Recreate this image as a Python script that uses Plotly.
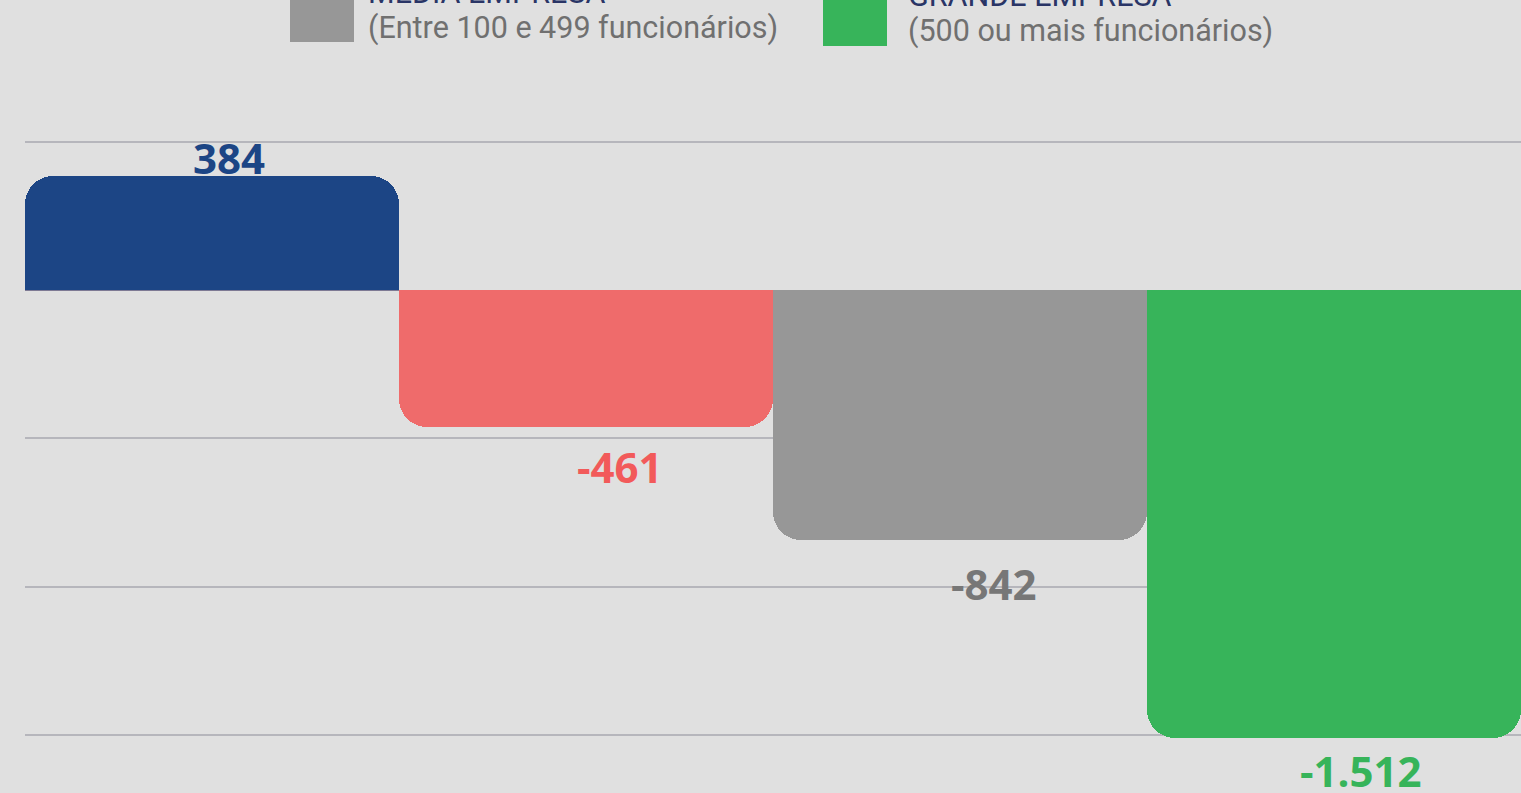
import plotly.graph_objects as go

# ---- data ----
categories = ["Micro empresa", "Pequena empresa", "Média empresa", "Grande empresa"]
values = [384, -461, -842, -1512]
value_labels = ["384", "-461", "-842", "-1.512"]
legend_titles = ["MÉDIA EMPRESA", "GRANDE EMPRESA"]
legend_subtitles = ["(Entre 100 e 499 funcionários)", "(500 ou mais funcionários)"]

# ---- styles ----
bar_colors = ["#1c4585", "#ef6b6b", "#979797", "#37b45a"]
label_colors = ["#1c4585", "#f25a5a", "#777777", "#37b45a"]
label_xshift = [17, 34, 34, 27]
label_yshift = [19, -40, -44, -32]
legend_colors = ["#979797", "#37b45a"]

W, H = 1521, 793
ML, MR, MT, MB = 25, 0, 0, 0
PW = W - ML - MR
PH = H - MT - MB

def px_x(px):
    return (px - ML) / PW

def px_y(py):
    return 1 - (py - MT) / PH

fig = go.Figure()
fig.add_trace(go.Bar(
    x=list(range(len(categories))),
    y=values,
    marker=dict(color=bar_colors, cornerradius=28, line=dict(width=0)),
    hovertext=categories,
    showlegend=False,
))

for i, (v, t) in enumerate(zip(values, value_labels)):
    fig.add_annotation(
        x=i, y=v, text=t, showarrow=False,
        xanchor="center", yanchor="middle",
        xshift=label_xshift[i], yshift=label_yshift[i],
        font=dict(family="Open Sans", size=42, color=label_colors[i], weight="bold"),
    )

# legend (drawn manually, top partially out of frame as in reference)
leg_sq = [(290, -22, 354, 42), (823, -18, 887, 46)]
leg_text_x = [366, 906]
leg_sub_y = [28, 31]
for k in range(2):
    x0, y0, x1, y1 = leg_sq[k]
    fig.add_shape(type="rect", xref="paper", yref="paper",
                  x0=px_x(x0), x1=px_x(x1), y0=px_y(y1), y1=px_y(y0),
                  fillcolor=legend_colors[k], line=dict(width=0), layer="above")
    fig.add_annotation(xref="paper", yref="paper", x=px_x(leg_text_x[k]), y=px_y(leg_sub_y[k]),
                       text=legend_subtitles[k], showarrow=False, xanchor="left", yanchor="middle",
                       font=dict(family="Roboto", size=30.5, color="#707070"))
    fig.add_annotation(xref="paper", yref="paper", x=px_x(leg_text_x[k]), y=px_y(leg_sub_y[k] - 36),
                       text=legend_titles[k], showarrow=False, xanchor="left", yanchor="middle",
                       font=dict(family="Roboto", size=30.5, color="#2a3566"))

fig.update_layout(
    width=W, height=H,
    margin=dict(l=ML, r=MR, t=MT, b=MB, pad=0),
    paper_bgcolor="#e0e0e0",
    plot_bgcolor="#e0e0e0",
    bargap=0,
    showlegend=False,
    xaxis=dict(range=[-0.5, 3.5], showticklabels=False, showgrid=False, zeroline=False,
               ticks="", fixedrange=True),
    yaxis=dict(range=[-1696, 979], dtick=500, tick0=0, showticklabels=False, ticks="",
               showgrid=True, gridcolor="#b6b6bc", gridwidth=2,
               zeroline=True, zerolinecolor="#7e7a94", zerolinewidth=1, layer="below traces"),
)

fig.write_html(
    "out.html",
    config={"displayModeBar": False},
    post_script="document.body.style.margin='0';document.body.style.overflow='hidden';document.body.style.background='#e0e0e0';",
)
